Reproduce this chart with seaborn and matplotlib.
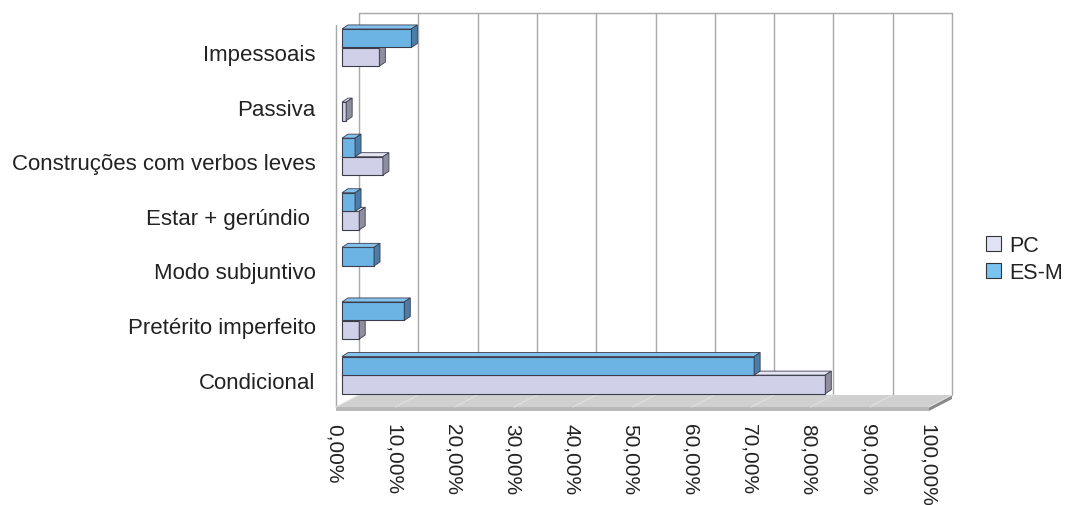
import numpy as np
import pandas as pd
import matplotlib
matplotlib.use("Agg")
import matplotlib.pyplot as plt
import seaborn as sns
from matplotlib.patches import Polygon, Patch
from matplotlib.transforms import ScaledTranslation

# ---------------- data ----------------
categories = ["Impessoais", "Passiva", "Construções com verbos leves",
              "Estar + gerúndio ", "Modo subjuntivo", "Pretérito imperfeito",
              "Condicional"]
pc_values = [6.3, 0.7, 6.9, 2.9, 0.0, 2.9, 81.5]
esm_values = [11.7, 0.0, 2.2, 2.2, 5.4, 10.5, 69.5]
series_order = ["ES-M", "PC"]
legend_order = ["PC", "ES-M"]
xticks = [0, 10, 20, 30, 40, 50, 60, 70, 80, 90, 100]
xtick_labels = ["0,00%", "10,00%", "20,00%", "30,00%", "40,00%", "50,00%",
                "60,00%", "70,00%", "80,00%", "90,00%", "100,00%"]

df = pd.DataFrame({
    "category": categories * 2,
    "value": esm_values + pc_values,
    "series": ["ES-M"] * len(categories) + ["PC"] * len(categories),
})

# ---------------- style ----------------
sns.set_theme(style="white")
plt.rcParams["font.family"] = ["Liberation Sans", "DejaVu Sans"]
TXT = "#222222"

front_col = {"ES-M": "#6CB4E4", "PC": "#D0D0E8"}
top_col = {"ES-M": "#84C2EE", "PC": "#E4E4F4"}
side_col = {"ES-M": "#4A7DA8", "PC": "#8E8E9E"}
edge_col = "#3C3C4C"

W, H = 1066, 506
fig = plt.figure(figsize=(W / 100, H / 100), dpi=100)
fig.patch.set_facecolor("white")

# axes = front plane of the bars (pixels 342..935 x, 26..405 y)
ax = fig.add_axes([342 / W, 1 - 405 / H, 593 / W, (405 - 26) / H])
ax.patch.set_alpha(0)

sns.barplot(data=df, y="category", x="value", hue="series",
            hue_order=series_order, order=categories, orient="h",
            width=0.68, palette=front_col, saturation=1, edgecolor=edge_col,
            linewidth=0.8, legend=False, ax=ax)

# pixel -> data conversions
KX = 100 / 593.0          # data x per pixel
KY = 1 / 54.6             # data y per pixel
def yd(p):                # bar-plane pixel row -> data y
    return (p - 48.5) * KY

ax.set_xlim(0, 100)
ax.set_ylim(yd(405), yd(26))
for s in ax.spines.values():
    s.set_visible(False)

# ---------------- box (back wall, side edge, floor) ----------------
ytop_b = yd(23)
ybot = yd(405)
bdx, bdy = 17 * KX, -9 * KY     # back plane offset
fdx, fdy = -6 * KX, 3 * KY      # front plane offset
grid_c = "#A8A8A8"
for v in xticks:
    ax.plot([v + bdx, v + bdx], [ytop_b + bdy, ybot + bdy], color=grid_c,
            lw=1, clip_on=False, zorder=0.5)
ax.plot([0 + bdx, 100 + bdx], [ytop_b + bdy, ytop_b + bdy], color=grid_c,
        lw=1, clip_on=False, zorder=0.5)
ax.plot([fdx, fdx], [ytop_b + fdy, ybot + fdy], color=grid_c, lw=1,
        clip_on=False, zorder=0.5)

yf = ybot + fdy
yb = ybot + bdy
floor = Polygon([(0 + fdx, yf), (100 + fdx, yf), (100 + bdx, yb), (0 + bdx, yb)],
                closed=True, facecolor="#D0D0D0", edgecolor="none",
                clip_on=False, zorder=0.6)
ax.add_patch(floor)
thick = 4 * KY
ax.add_patch(Polygon([(0 + fdx, yf), (100 + fdx, yf), (100 + fdx, yf + thick),
                      (0 + fdx, yf + thick)], closed=True, facecolor="#B8B8B8",
                     edgecolor="none", clip_on=False, zorder=0.6))
ax.add_patch(Polygon([(100 + fdx, yf), (100 + bdx, yb), (100 + bdx, yb + thick),
                      (100 + fdx, yf + thick)], closed=True, facecolor="#888888",
                     edgecolor="none", clip_on=False, zorder=0.6))
for v in xticks:
    ax.plot([v + fdx, v + bdx], [yf, yb], color="#E0E0E0", lw=0.8,
            clip_on=False, zorder=0.7)

# ---------------- 3D faces on the bars ----------------
ddx, ddy = 6 * KX, 4 * KY
for level, cont in zip(series_order, ax.containers):
    z = 4 if level == "ES-M" else 3
    for rect in cont:
        rect.set_zorder(z)
        rect.set_clip_on(False)
        x0, w = rect.get_x(), rect.get_width()
        y, h = rect.get_y(), rect.get_height()
        if w <= 0:
            rect.set_visible(False)
            continue
        x1 = x0 + w
        yt, ybm = y, y + h
        ax.add_patch(Polygon([(x0, yt), (x1, yt), (x1 + ddx, yt - ddy),
                              (x0 + ddx, yt - ddy)], closed=True,
                             facecolor=top_col[level], edgecolor=edge_col,
                             linewidth=0.6, zorder=z, clip_on=False))
        ax.add_patch(Polygon([(x1, yt), (x1 + ddx, yt - ddy),
                              (x1 + ddx, ybm - ddy), (x1, ybm)], closed=True,
                             facecolor=side_col[level], edgecolor=edge_col,
                             linewidth=0.6, zorder=z, clip_on=False))

# ---------------- ticks ----------------
ax.set_xticks(xticks)
ax.set_xticklabels(xtick_labels, rotation=-90, ha="center", va="top",
                   fontsize=15, color=TXT)
ax.tick_params(axis="x", length=0, pad=14)
for lbl in ax.get_xticklabels():
    lbl.set_transform(lbl.get_transform() +
                      ScaledTranslation(-0.08, 0, fig.dpi_scale_trans))

ax.set_yticks(range(len(categories)))
ax.set_yticklabels(categories, fontsize=16, color=TXT)
ax.tick_params(axis="y", length=0, pad=19)
for lbl in ax.get_yticklabels():
    lbl.set_transform(lbl.get_transform() +
                      ScaledTranslation(0, -0.045, fig.dpi_scale_trans))
ax.set_xlabel("")
ax.set_ylabel("")

# ---------------- legend ----------------
leg_fc = {"PC": "#E2E2F6", "ES-M": "#7AC2F2"}
handles = [Patch(facecolor=leg_fc[s], edgecolor="#333333", linewidth=0.8)
           for s in legend_order]
fig.legend(handles=handles, labels=legend_order, loc="upper left",
           bbox_to_anchor=(986 / W, 1 - 236 / H), frameon=False, fontsize=15.5,
           handlelength=0.7, handleheight=0.7, handletextpad=0.4,
           labelspacing=0.3, borderaxespad=0, borderpad=0,
           labelcolor=TXT)

fig.savefig("out.png", dpi=100)
